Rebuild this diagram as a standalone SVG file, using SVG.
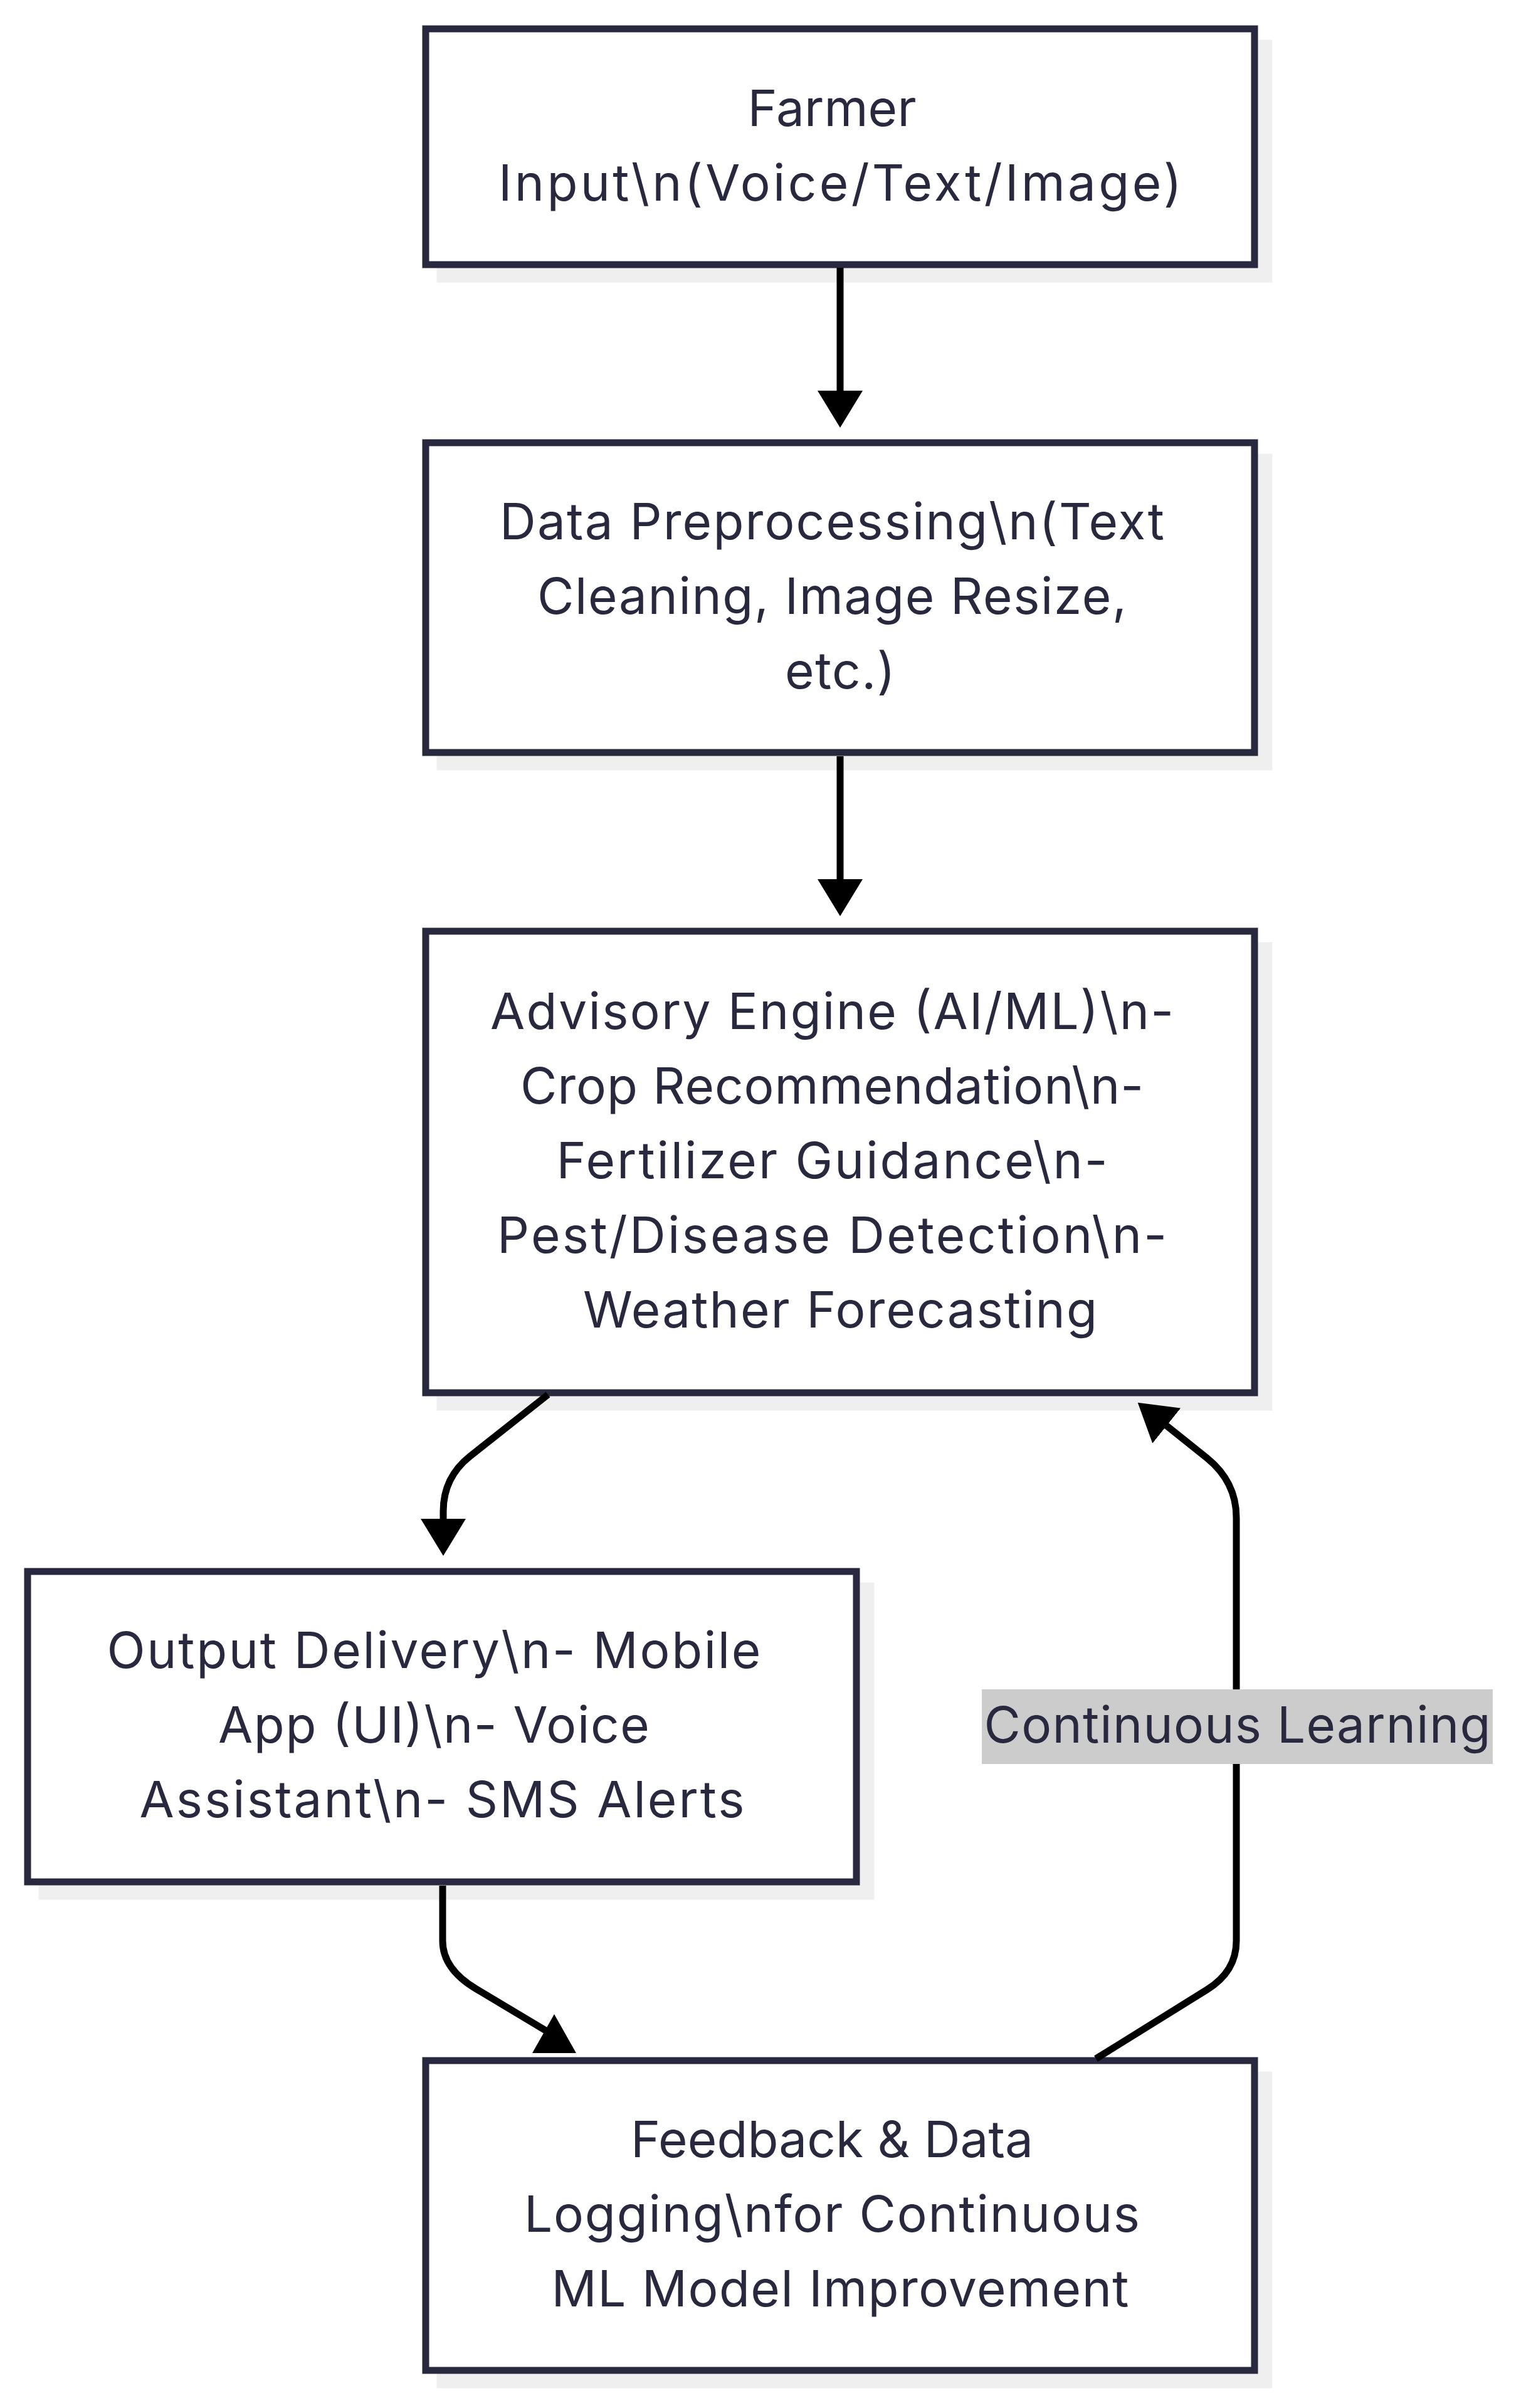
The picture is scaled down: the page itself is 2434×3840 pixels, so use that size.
<svg xmlns="http://www.w3.org/2000/svg" width="2434" height="3840" viewBox="0 0 2434 3840">
<style>
  .shadow { fill: #efefef; stroke: #efefef; stroke-width: 11; }
  .box { fill: #ffffff; stroke: #28283e; stroke-width: 11; }
  .lbl { font-family: "Inter", "Open Sans", "Liberation Sans", sans-serif; font-size: 80px; fill: #28283e; text-anchor: middle; }
  .edge { fill: none; stroke: #000000; stroke-width: 11; }
  .head { fill: #000000; }
  .elbg { fill: #cccccc; }
</style>
<defs>
  <marker id="arrow" viewBox="0 0 59 72" refX="1" refY="36" markerWidth="59" markerHeight="72" markerUnits="userSpaceOnUse" orient="auto">
    <path d="M0,0 L59,36 L0,72 z" fill="#000000"/>
  </marker>
</defs>
<rect width="2434" height="3840" fill="#ffffff"/>

<g id="node-farmer-input">
  <rect class="shadow" x="702" y="69" width="1322" height="376"/>
  <rect class="box" x="679" y="46" width="1322" height="376"/>
  <text class="lbl" x="1327" y="200.5" textLength="269" lengthAdjust="spacing">Farmer</text>
  <text class="lbl" x="1340" y="319.5" textLength="1090" lengthAdjust="spacing">Input\n(Voice/Text/Image)</text>
</g>

<g id="node-preprocessing">
  <rect class="shadow" x="702" y="729" width="1322" height="494"/>
  <rect class="box" x="679" y="706" width="1322" height="494"/>
  <text class="lbl" x="1327" y="860" textLength="1060" lengthAdjust="spacing">Data Preprocessing\n(Text</text>
  <text class="lbl" x="1327" y="979" textLength="940" lengthAdjust="spacing">Cleaning, Image Resize,</text>
  <text class="lbl" x="1340" y="1098" textLength="176" lengthAdjust="spacing">etc.)</text>
</g>

<g id="node-advisory-engine">
  <rect class="shadow" x="702" y="1508" width="1322" height="736"/>
  <rect class="box" x="679" y="1485" width="1322" height="736"/>
  <text class="lbl" x="1327" y="1641" textLength="1090" lengthAdjust="spacing">Advisory Engine (AI/ML)\n-</text>
  <text class="lbl" x="1327" y="1760" textLength="994" lengthAdjust="spacing">Crop Recommendation\n-</text>
  <text class="lbl" x="1327" y="1879" textLength="879" lengthAdjust="spacing">Fertilizer Guidance\n-</text>
  <text class="lbl" x="1327" y="1998" textLength="1068" lengthAdjust="spacing">Pest/Disease Detection\n-</text>
  <text class="lbl" x="1340" y="2117" textLength="820" lengthAdjust="spacing">Weather Forecasting</text>
</g>

<g id="node-output-delivery">
  <rect class="shadow" x="67" y="2529" width="1322" height="495"/>
  <rect class="box" x="44" y="2506" width="1322" height="495"/>
  <text class="lbl" x="692" y="2660" textLength="1043" lengthAdjust="spacing">Output Delivery\n- Mobile</text>
  <text class="lbl" x="692" y="2779" textLength="688" lengthAdjust="spacing">App (UI)\n- Voice</text>
  <text class="lbl" x="705" y="2898" textLength="965" lengthAdjust="spacing">Assistant\n- SMS Alerts</text>
</g>

<g id="node-feedback">
  <rect class="shadow" x="702" y="3309" width="1322" height="494"/>
  <rect class="box" x="679" y="3286" width="1322" height="494"/>
  <text class="lbl" x="1327" y="3440" textLength="642" lengthAdjust="spacing">Feedback &amp; Data</text>
  <text class="lbl" x="1327" y="3559" textLength="982" lengthAdjust="spacing">Logging\nfor Continuous</text>
  <text class="lbl" x="1340" y="3678" textLength="921" lengthAdjust="spacing">ML Model Improvement</text>
</g>

<g id="connectors">
  <path class="edge" d="M1340,427 L1340,624" marker-end="url(#arrow)"/>
  <path class="edge" d="M1340,1206 L1340,1403" marker-end="url(#arrow)"/>
  <path class="edge" d="M874,2224 L750,2322 Q707,2356 707,2410 L707,2423" marker-end="url(#arrow)"/>
  <path class="edge" d="M706,3007 L706,3095 Q706,3140 760,3172 L872,3239"/>
  <polygon class="head" points="884,3212 919,3274 849,3274"/>
  <path class="edge" d="M1748,3283 L1925,3173 Q1972,3144 1972,3095 L1972,2420 Q1972,2363 1925,2325 L1860,2273" marker-end="url(#arrow)"/>
  <g id="edge-label-continuous-learning">
    <rect class="elbg" x="1566" y="2694" width="815" height="119"/>
    <text class="lbl" x="1973.5" y="2779" textLength="808" lengthAdjust="spacing">Continuous Learning</text>
  </g>
</g>
</svg>
